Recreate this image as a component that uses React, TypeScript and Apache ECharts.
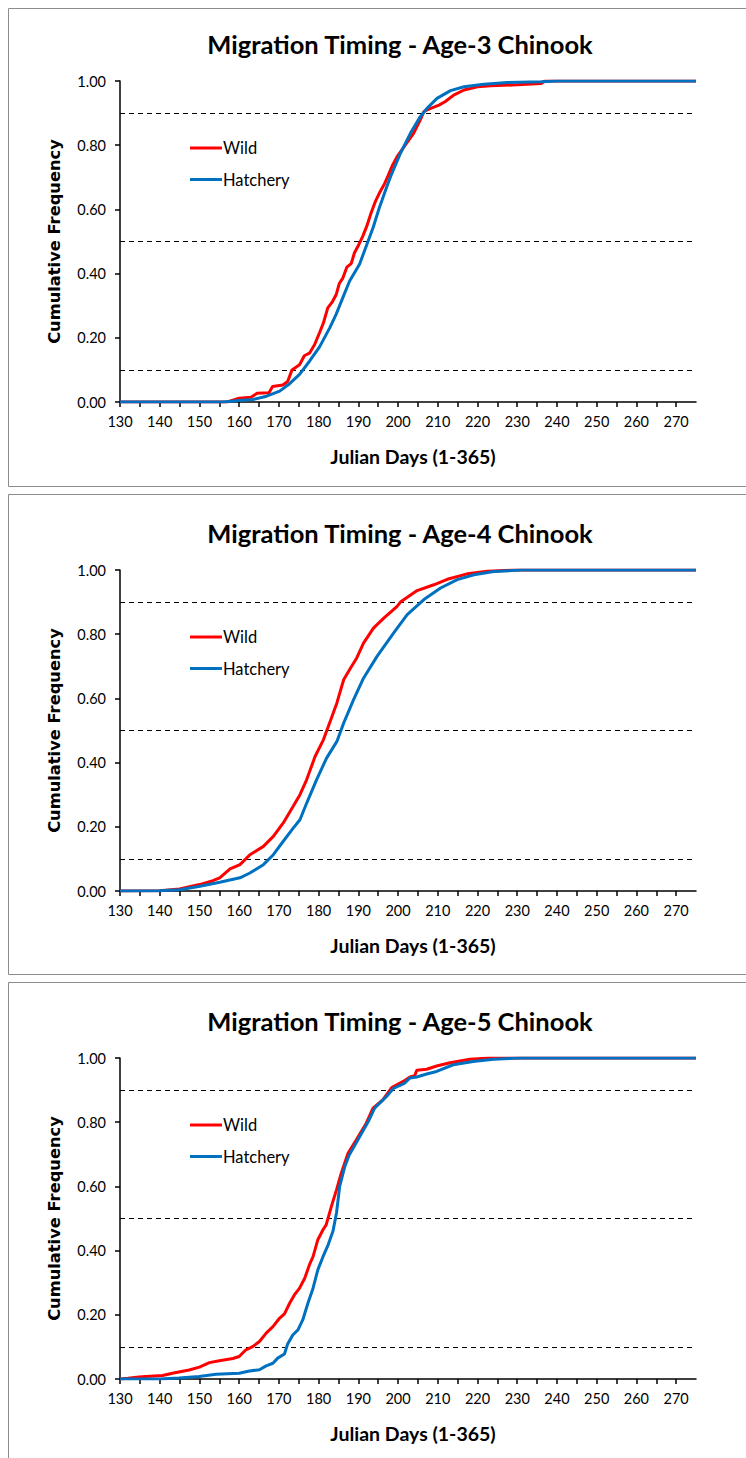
import React, { useEffect, useRef } from "react";
import * as echarts from "echarts";

const TITLES = [
  "Migration Timing - Age-3 Chinook",
  "Migration Timing - Age-4 Chinook",
  "Migration Timing - Age-5 Chinook",
];
const SERIES_NAMES = ["Wild", "Hatchery"];
const X_NAME = "Julian Days (1-365)";
const Y_NAME = "Cumulative Frequency";
const REF_LEVELS = [0.1, 0.5, 0.9];

// Age-3
const A3_WILD_DAY = [130, 157, 160, 163, 164.5, 167.5, 168.4, 171, 172.2, 173.3, 175.2, 176.4, 177.7, 179, 180.2, 181.2, 182.3, 183.5, 184.4, 185.2, 186.1, 187.1, 188.2, 189, 190.1, 191.1, 192.1, 193.2, 194.3, 195.3, 196.6, 197.5, 198.5, 199.8, 201.8, 203.9, 205.6, 206.5, 208.2, 210.3, 211.9, 214, 216.6, 220, 223.3, 230, 236, 237, 275];
const A3_WILD_CF = [0, 0, 0.012, 0.015, 0.027, 0.029, 0.048, 0.053, 0.064, 0.1, 0.116, 0.144, 0.152, 0.179, 0.215, 0.246, 0.293, 0.313, 0.334, 0.369, 0.386, 0.42, 0.431, 0.464, 0.49, 0.516, 0.547, 0.589, 0.625, 0.651, 0.68, 0.705, 0.735, 0.765, 0.8, 0.837, 0.879, 0.905, 0.915, 0.925, 0.936, 0.956, 0.972, 0.982, 0.985, 0.988, 0.992, 1, 1];
const A3_HATCH_DAY = [130, 156, 160, 163.5, 166.9, 170.2, 172.7, 175.2, 177.7, 180.2, 182.8, 184.4, 186.1, 187.8, 190.3, 192, 193.7, 195.3, 196, 197, 198.1, 200.6, 203.1, 205.6, 207.3, 209.8, 213.2, 216.6, 221.6, 227.5, 236, 240, 275];
const A3_HATCH_CF = [0, 0, 0.005, 0.008, 0.018, 0.034, 0.057, 0.086, 0.127, 0.171, 0.231, 0.273, 0.325, 0.377, 0.429, 0.486, 0.543, 0.606, 0.63, 0.665, 0.702, 0.775, 0.837, 0.889, 0.915, 0.946, 0.97, 0.982, 0.99, 0.995, 0.998, 1, 1];

// Age-4
const A4_WILD_DAY = [130, 140, 145, 150, 153.4, 155.1, 157.7, 160.2, 162.7, 166.1, 168.6, 171.1, 173.6, 175.3, 177, 179.1, 181.2, 182.9, 184.6, 186.3, 188, 189.6, 191.3, 193.8, 196.4, 199.7, 200.6, 204.8, 209, 212.4, 217.4, 222.5, 229, 275];
const A4_WILD_CF = [0, 0.001, 0.006, 0.02, 0.032, 0.041, 0.069, 0.082, 0.113, 0.139, 0.17, 0.212, 0.264, 0.3, 0.347, 0.419, 0.471, 0.528, 0.586, 0.658, 0.694, 0.726, 0.772, 0.819, 0.85, 0.886, 0.9, 0.936, 0.954, 0.971, 0.988, 0.996, 1, 1];
const A4_HATCH_DAY = [130, 140, 145, 150.1, 155.1, 160.2, 162.7, 166.1, 168.6, 171.1, 173.6, 175.3, 177, 179.5, 182, 184.6, 186.3, 188.8, 191.3, 194.7, 198.9, 202.3, 206.5, 210.7, 214.9, 219.1, 224.1, 231, 275];
const A4_HATCH_CF = [0, 0.001, 0.004, 0.015, 0.027, 0.041, 0.056, 0.082, 0.113, 0.155, 0.196, 0.222, 0.274, 0.347, 0.414, 0.466, 0.523, 0.596, 0.663, 0.731, 0.804, 0.861, 0.908, 0.944, 0.97, 0.985, 0.995, 1, 1];

// Age-5
const A5_WILD_DAY = [130, 132, 134.8, 136.5, 140.7, 143.2, 147.4, 150, 152.5, 155, 158.4, 160, 161.7, 163.4, 165.1, 166.8, 168.5, 170.2, 171.4, 172.7, 173.9, 175.2, 176.5, 177.7, 178.6, 179.8, 181.1, 181.9, 183.2, 184.5, 185.7, 187.4, 189.5, 192, 193.7, 196.2, 198.4, 201.3, 203, 204.2, 204.7, 207.2, 209.7, 213.1, 218.1, 223, 275];
const A5_WILD_CF = [0, 0.002, 0.006, 0.008, 0.011, 0.018, 0.028, 0.037, 0.051, 0.057, 0.064, 0.07, 0.091, 0.101, 0.117, 0.143, 0.163, 0.19, 0.203, 0.236, 0.262, 0.283, 0.314, 0.356, 0.381, 0.434, 0.465, 0.48, 0.537, 0.589, 0.641, 0.703, 0.745, 0.797, 0.844, 0.87, 0.908, 0.927, 0.941, 0.945, 0.962, 0.965, 0.975, 0.985, 0.996, 1, 1];
const A5_HATCH_DAY = [130, 140, 144.9, 149.9, 154.2, 160, 162.6, 165.1, 166.8, 168.5, 169.7, 171.4, 172.2, 173.5, 174.8, 176, 177.3, 178.6, 179.8, 181.1, 182.4, 183.6, 184.5, 185.3, 186.6, 187.7, 189.9, 192.5, 194.1, 197.1, 198.8, 201.7, 203, 204.7, 207.2, 209.7, 213.9, 218.9, 224, 231, 275];
const A5_HATCH_CF = [0, 0, 0.003, 0.008, 0.015, 0.018, 0.025, 0.029, 0.041, 0.049, 0.065, 0.078, 0.109, 0.137, 0.153, 0.184, 0.236, 0.283, 0.34, 0.381, 0.418, 0.46, 0.517, 0.6, 0.662, 0.698, 0.745, 0.802, 0.844, 0.88, 0.905, 0.922, 0.938, 0.941, 0.95, 0.958, 0.979, 0.989, 0.996, 1, 1];

const PANELS = [
  { wd: A3_WILD_DAY, wc: A3_WILD_CF, hd: A3_HATCH_DAY, hc: A3_HATCH_CF },
  { wd: A4_WILD_DAY, wc: A4_WILD_CF, hd: A4_HATCH_DAY, hc: A4_HATCH_CF },
  { wd: A5_WILD_DAY, wc: A5_WILD_CF, hd: A5_HATCH_DAY, hc: A5_HATCH_CF },
];

const FONT = "Lato, 'Open Sans', sans-serif";
const PANEL_TOPS = [8, 494, 982];
const PANEL_HEIGHTS = [478, 480, 490];
const GRID_TOPS = [81, 570, 1058];

function pairs(d: number[], v: number[]) {
  return d.map((x, i) => [x, v[i]]);
}

export default function App() {
  const ref = useRef<HTMLDivElement>(null);
  useEffect(() => {
    if (!ref.current) return;
    const chart = echarts.init(ref.current, undefined, { renderer: "svg" });
    const grid: any[] = [];
    const xAxis: any[] = [];
    const yAxis: any[] = [];
    const series: any[] = [];
    const title: any[] = [];
    const legend: any[] = [];
    const graphic: any[] = [];
    PANELS.forEach((p, i) => {
      const gt = GRID_TOPS[i];
      grid.push({ left: 120, top: gt, width: 576, height: 321 });
      graphic.push({
        type: "rect",
        silent: true,
        z: -10,
        shape: { x: 8.5, y: PANEL_TOPS[i] + 0.5, width: 800, height: PANEL_HEIGHTS[i] },
        style: { fill: "#fff", stroke: "#8c8c8c", lineWidth: 1 },
      });
      title.push({
        text: TITLES[i],
        left: 395,
        textAlign: "center",
        top: gt - 55,
        textStyle: { fontFamily: FONT, fontWeight: "bold", fontSize: 25.5, color: "#000" },
      });
      legend.push({
        data: SERIES_NAMES,
        orient: "vertical",
        left: 190,
        top: gt + 58.5,
        padding: 0,
        icon: "rect",
        itemWidth: 32,
        itemHeight: 3,
        itemGap: 14.5,
        textStyle: { fontFamily: FONT, fontSize: 16.5, color: "#000", padding: [0, 0, 0, -4] },
      });
      xAxis.push({
        type: "value",
        gridIndex: i,
        min: 130,
        max: 275,
        interval: 5,
        name: X_NAME,
        nameLocation: "middle",
        nameGap: 44,
        nameTextStyle: {
          fontFamily: FONT,
          fontWeight: "bold",
          fontSize: 19.5,
          color: "#000",
          padding: [0, 0, 0, 10],
        },
        axisLine: { onZero: false, lineStyle: { color: "#000", width: 1.5 } },
        axisTick: { show: true, length: 5, lineStyle: { color: "#000", width: 1.5 } },
        axisLabel: {
          fontFamily: FONT,
          fontSize: 14.5,
          color: "#000",
          margin: 12,
          showMaxLabel: false,
          formatter: (v: number) => (v % 10 === 0 && v < 275 ? String(v) : ""),
        },
        splitLine: { show: false },
      });
      yAxis.push({
        type: "value",
        gridIndex: i,
        min: 0,
        max: 1,
        interval: 0.2,
        name: Y_NAME,
        nameLocation: "middle",
        nameRotate: 90,
        nameGap: 58,
        nameTextStyle: { fontFamily: "'DejaVu Sans', sans-serif", fontWeight: "bold", fontSize: 16.3, color: "#000" },
        axisLine: { show: true, lineStyle: { color: "#000", width: 1.5 } },
        axisTick: { show: true, length: 5, lineStyle: { color: "#000", width: 1.5 } },
        axisLabel: {
          fontFamily: FONT,
          fontSize: 14.5,
          color: "#000",
          margin: 14,
          formatter: (v: number) => v.toFixed(2),
        },
        splitLine: { show: false },
      });
      series.push({
        name: SERIES_NAMES[0],
        type: "line",
        xAxisIndex: i,
        yAxisIndex: i,
        data: pairs(p.wd, p.wc),
        symbol: "none",
        smooth: false,
        lineStyle: { color: "#FF0000", width: 3 },
        itemStyle: { color: "#FF0000" },
        z: 3,
        markLine: {
          silent: true,
          symbol: ["none", "none"],
          label: { show: false },
          lineStyle: { color: "#000", type: [5, 4], width: 1 },
          data: REF_LEVELS.map((v) => ({ yAxis: v })),
          z: 1,
        },
      });
      series.push({
        name: SERIES_NAMES[1],
        type: "line",
        xAxisIndex: i,
        yAxisIndex: i,
        data: pairs(p.hd, p.hc),
        symbol: "none",
        smooth: false,
        lineStyle: { color: "#0070C0", width: 3 },
        itemStyle: { color: "#0070C0" },
        z: 4,
      });
    });
    chart.setOption({
      animation: false,
      backgroundColor: "#fff",
      title,
      legend,
      grid,
      xAxis,
      yAxis,
      series,
      graphic,
    });
    return () => chart.dispose();
  }, []);
  return (
    <div
      ref={ref}
      style={{ position: "absolute", left: 0, top: 0, width: 746, height: 1458, background: "#fff" }}
    />
  );
}
